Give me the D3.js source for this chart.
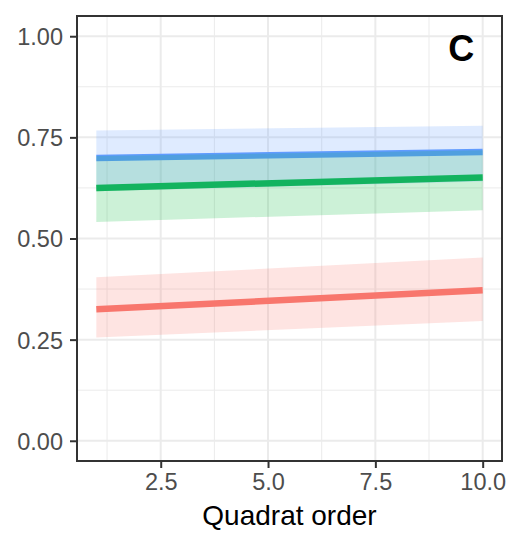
<!DOCTYPE html>
<html>
<head>
<meta charset="utf-8">
<script src="https://cdn.jsdelivr.net/npm/d3@7"></script>
<style>
  html, body { margin: 0; padding: 0; background: #ffffff; }
  svg { display: block; }
  text { font-family: "Liberation Sans", Arial, Helvetica, sans-serif; }
</style>
</head>
<body>
<div id="chart"></div>
<script>
// ---- data ----
const quadrat = [1, 10];
const seriesNames = ["red group", "green group", "blue group"];
const seriesColors = ["#F8766D", "#00BA38", "#619CFF"];
const fitRed = [0.325, 0.372];
const loRed = [0.255, 0.296];
const hiRed = [0.404, 0.453];
const fitGreen = [0.625, 0.651];
const loGreen = [0.541, 0.570];
const hiGreen = [0.704, 0.718];
const fitBlue = [0.699, 0.714];
const loBlue = [0.617, 0.641];
const hiBlue = [0.767, 0.779];
const xMajorTicks = [2.5, 5.0, 7.5, 10.0];
const xMinorTicks = [1.25, 3.75, 6.25, 8.75];
const yMajorTicks = [0.00, 0.25, 0.50, 0.75, 1.00];
const yMinorTicks = [0.125, 0.375, 0.625, 0.875];
const xTitle = "Quadrat order";
const panelLabel = "C";

// ---- layout ----
const W = 510, H = 540;
const pLeft = 77, pRight = 502, pTop = 16, pBottom = 461;

const x = d3.scaleLinear().domain([0.55, 10.45]).range([pLeft, pRight]);
const y = d3.scaleLinear().domain([-0.05, 1.05]).range([pBottom, pTop]);

const series = [
  { name: seriesNames[0], color: seriesColors[0], fit: fitRed, lo: loRed, hi: hiRed },
  { name: seriesNames[1], color: seriesColors[1], fit: fitGreen, lo: loGreen, hi: hiGreen },
  { name: seriesNames[2], color: seriesColors[2], fit: fitBlue, lo: loBlue, hi: hiBlue }
];

const svg = d3.select("#chart").append("svg")
  .attr("width", W).attr("height", H);

// panel background
svg.append("rect").attr("x", pLeft).attr("y", pTop)
  .attr("width", pRight - pLeft).attr("height", pBottom - pTop)
  .attr("fill", "#ffffff");

const grid = svg.append("g");
// minor grid
grid.selectAll("line.xmin").data(xMinorTicks).enter().append("line")
  .attr("x1", d => x(d)).attr("x2", d => x(d))
  .attr("y1", pTop).attr("y2", pBottom)
  .attr("stroke", "#EBEBEB").attr("stroke-width", 1);
grid.selectAll("line.ymin").data(yMinorTicks).enter().append("line")
  .attr("y1", d => y(d)).attr("y2", d => y(d))
  .attr("x1", pLeft).attr("x2", pRight)
  .attr("stroke", "#EBEBEB").attr("stroke-width", 1);
// major grid
grid.selectAll("line.xmaj").data(xMajorTicks).enter().append("line")
  .attr("x1", d => x(d)).attr("x2", d => x(d))
  .attr("y1", pTop).attr("y2", pBottom)
  .attr("stroke", "#EBEBEB").attr("stroke-width", 2);
grid.selectAll("line.ymaj").data(yMajorTicks).enter().append("line")
  .attr("y1", d => y(d)).attr("y2", d => y(d))
  .attr("x1", pLeft).attr("x2", pRight)
  .attr("stroke", "#EBEBEB").attr("stroke-width", 2);

// lines (drawn first, ribbons overlay them)
const line = d3.line().x(d => x(d[0])).y(d => y(d[1]));
svg.append("g").selectAll("path").data(series).enter().append("path")
  .attr("d", s => line(quadrat.map((q, i) => [q, s.fit[i]])))
  .attr("fill", "none")
  .attr("stroke", s => s.color)
  .attr("stroke-width", 6.5)
  .attr("stroke-linecap", "butt");

// ribbons
const area = d3.area().x(d => x(d[0])).y0(d => y(d[1])).y1(d => y(d[2]));
svg.append("g").selectAll("path").data(series).enter().append("path")
  .attr("d", s => area(quadrat.map((q, i) => [q, s.lo[i], s.hi[i]])))
  .attr("fill", s => s.color)
  .attr("fill-opacity", 0.2)
  .attr("stroke", "none");

// panel border
svg.append("rect").attr("x", pLeft).attr("y", pTop)
  .attr("width", pRight - pLeft).attr("height", pBottom - pTop)
  .attr("fill", "none").attr("stroke", "#333333").attr("stroke-width", 2);

// axes
const xAxis = d3.axisBottom(x).tickValues(xMajorTicks)
  .tickFormat(d3.format(".1f")).tickSizeInner(7).tickSizeOuter(0).tickPadding(5);
const gx = svg.append("g").attr("transform", `translate(0,${pBottom})`).call(xAxis);
gx.select(".domain").remove();
gx.selectAll(".tick line").attr("stroke", "#333333").attr("stroke-width", 2);
gx.selectAll(".tick text")
  .attr("fill", "#4D4D4D")
  .attr("font-size", "23.5px")
  .attr("dy", null)
  .attr("y", 29);

const yAxis = d3.axisLeft(y).tickValues(yMajorTicks)
  .tickFormat(d3.format(".2f")).tickSizeInner(7).tickSizeOuter(0).tickPadding(4);
const gy = svg.append("g").attr("transform", `translate(${pLeft},0)`).call(yAxis);
gy.select(".domain").remove();
gy.selectAll(".tick line").attr("stroke", "#333333").attr("stroke-width", 2);
gy.selectAll(".tick text")
  .attr("fill", "#4D4D4D")
  .attr("font-size", "23.5px")
  .attr("x", -14)
  .attr("dy", "0.36em");

// axis title
svg.append("text")
  .attr("x", (pLeft + pRight) / 2).attr("y", 524.5)
  .attr("text-anchor", "middle")
  .attr("font-size", "28px")
  .attr("fill", "#000000")
  .text(xTitle);

// panel label
svg.append("text")
  .attr("x", x(9.5)).attr("y", 60.5)
  .attr("text-anchor", "middle")
  .attr("font-size", "36px")
  .attr("font-weight", "bold")
  .attr("fill", "#000000")
  .text(panelLabel);
</script>
</body>
</html>
